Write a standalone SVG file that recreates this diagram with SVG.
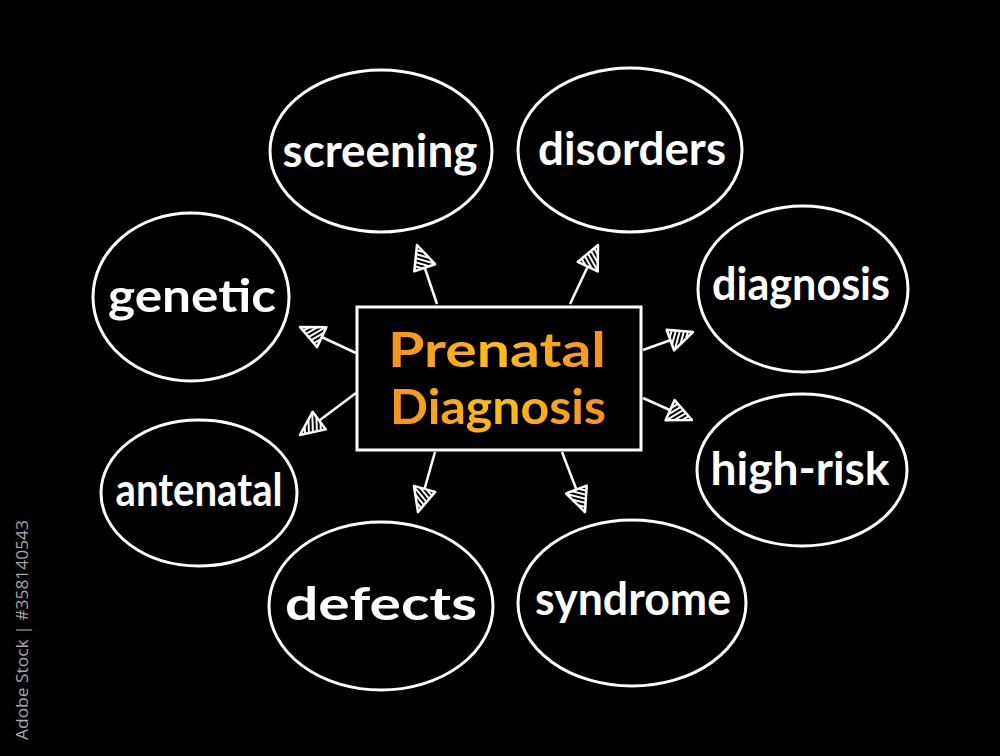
<svg xmlns="http://www.w3.org/2000/svg" width="1000" height="756" viewBox="0 0 1000 756">
  <defs>
    <style>
      .bubble { fill: none; stroke: #ffffff; stroke-width: 3; }
      .label { fill: #ffffff; font-family: Lato, "Open Sans", "Liberation Sans", sans-serif; font-weight: bold; font-size: 46px; text-anchor: middle; }
      .title { font-family: Lato, "Open Sans", "Liberation Sans", sans-serif; font-weight: bold; font-size: 47px; text-anchor: middle; fill: url(#orange); }
      .conn { stroke: #ffffff; stroke-width: 2.5; fill: none; marker-end: url(#head); }
      .credit { fill: #a8a8a8; font-family: "Open Sans", "Liberation Sans", sans-serif; font-size: 17px; }
    </style>
    <linearGradient id="orange" x1="0" y1="0" x2="1" y2="0">
      <stop offset="0" stop-color="#F7901E"/>
      <stop offset="0.5" stop-color="#FFBE10"/>
      <stop offset="1" stop-color="#F7901E"/>
    </linearGradient>
    <pattern id="hatch" patternUnits="userSpaceOnUse" width="4" height="4" patternTransform="rotate(35)">
      <rect width="4" height="4" fill="#000000"/>
      <line x1="1" y1="0" x2="1" y2="4" stroke="#ffffff" stroke-width="2"/>
    </pattern>
    <marker id="head" markerUnits="userSpaceOnUse" viewBox="-2 -2 28 26" refX="24" refY="11" markerWidth="28" markerHeight="26" orient="auto">
      <path d="M0,0 L24,11 L0,22 Z" fill="url(#hatch)" stroke="#ffffff" stroke-width="2.5" stroke-linejoin="round"/>
    </marker>
  </defs>
  <rect x="0" y="0" width="1000" height="756" fill="#000000"/>

  <g id="connectors">
    <line class="conn" x1="437" y1="304" x2="417" y2="245"/>
    <line class="conn" x1="570" y1="304" x2="598" y2="245"/>
    <line class="conn" x1="356" y1="353" x2="300" y2="327"/>
    <line class="conn" x1="356" y1="393" x2="300" y2="435"/>
    <line class="conn" x1="435" y1="452" x2="418" y2="512"/>
    <line class="conn" x1="562" y1="452" x2="585" y2="512"/>
    <line class="conn" x1="643" y1="350" x2="693" y2="332"/>
    <line class="conn" x1="643" y1="398" x2="692" y2="420"/>
  </g>

  <g id="center">
    <rect x="357" y="307" width="284" height="143" fill="#000000" stroke="#ffffff" stroke-width="3"/>
    <text class="title" x="497" y="367" textLength="218" lengthAdjust="spacingAndGlyphs">Prenatal</text>
    <text class="title" x="498" y="424" textLength="216" lengthAdjust="spacingAndGlyphs">Diagnosis</text>
  </g>

  <g id="screening">
    <ellipse class="bubble" cx="381" cy="151" rx="111" ry="81"/>
    <text class="label" x="380" y="167" textLength="195" lengthAdjust="spacingAndGlyphs">screening</text>
  </g>
  <g id="disorders">
    <ellipse class="bubble" cx="630" cy="150" rx="112" ry="82"/>
    <text class="label" x="632" y="165" textLength="188" lengthAdjust="spacingAndGlyphs">disorders</text>
  </g>
  <g id="genetic">
    <ellipse class="bubble" cx="191" cy="297" rx="98" ry="84"/>
    <text class="label" x="192" y="312" textLength="168" lengthAdjust="spacingAndGlyphs">genetic</text>
  </g>
  <g id="diagnosis">
    <ellipse class="bubble" cx="803" cy="289" rx="105" ry="83"/>
    <text class="label" x="801" y="300" textLength="178" lengthAdjust="spacingAndGlyphs">diagnosis</text>
  </g>
  <g id="antenatal">
    <ellipse class="bubble" cx="199" cy="493" rx="98" ry="73"/>
    <text class="label" x="199" y="506" textLength="167" lengthAdjust="spacingAndGlyphs">antenatal</text>
  </g>
  <g id="high-risk">
    <ellipse class="bubble" cx="802" cy="470" rx="105" ry="76"/>
    <text class="label" x="800" y="485" textLength="179" lengthAdjust="spacingAndGlyphs">high-risk</text>
  </g>
  <g id="defects">
    <ellipse class="bubble" cx="381" cy="606" rx="112" ry="84"/>
    <text class="label" x="381" y="620" textLength="192" lengthAdjust="spacingAndGlyphs">defects</text>
  </g>
  <g id="syndrome">
    <ellipse class="bubble" cx="632" cy="603" rx="114" ry="83"/>
    <text class="label" x="633" y="615" textLength="196" lengthAdjust="spacingAndGlyphs">syndrome</text>
  </g>

  <text class="credit" transform="translate(28,740) rotate(-90)" textLength="220" lengthAdjust="spacingAndGlyphs">Adobe Stock | #358140543</text>
</svg>
